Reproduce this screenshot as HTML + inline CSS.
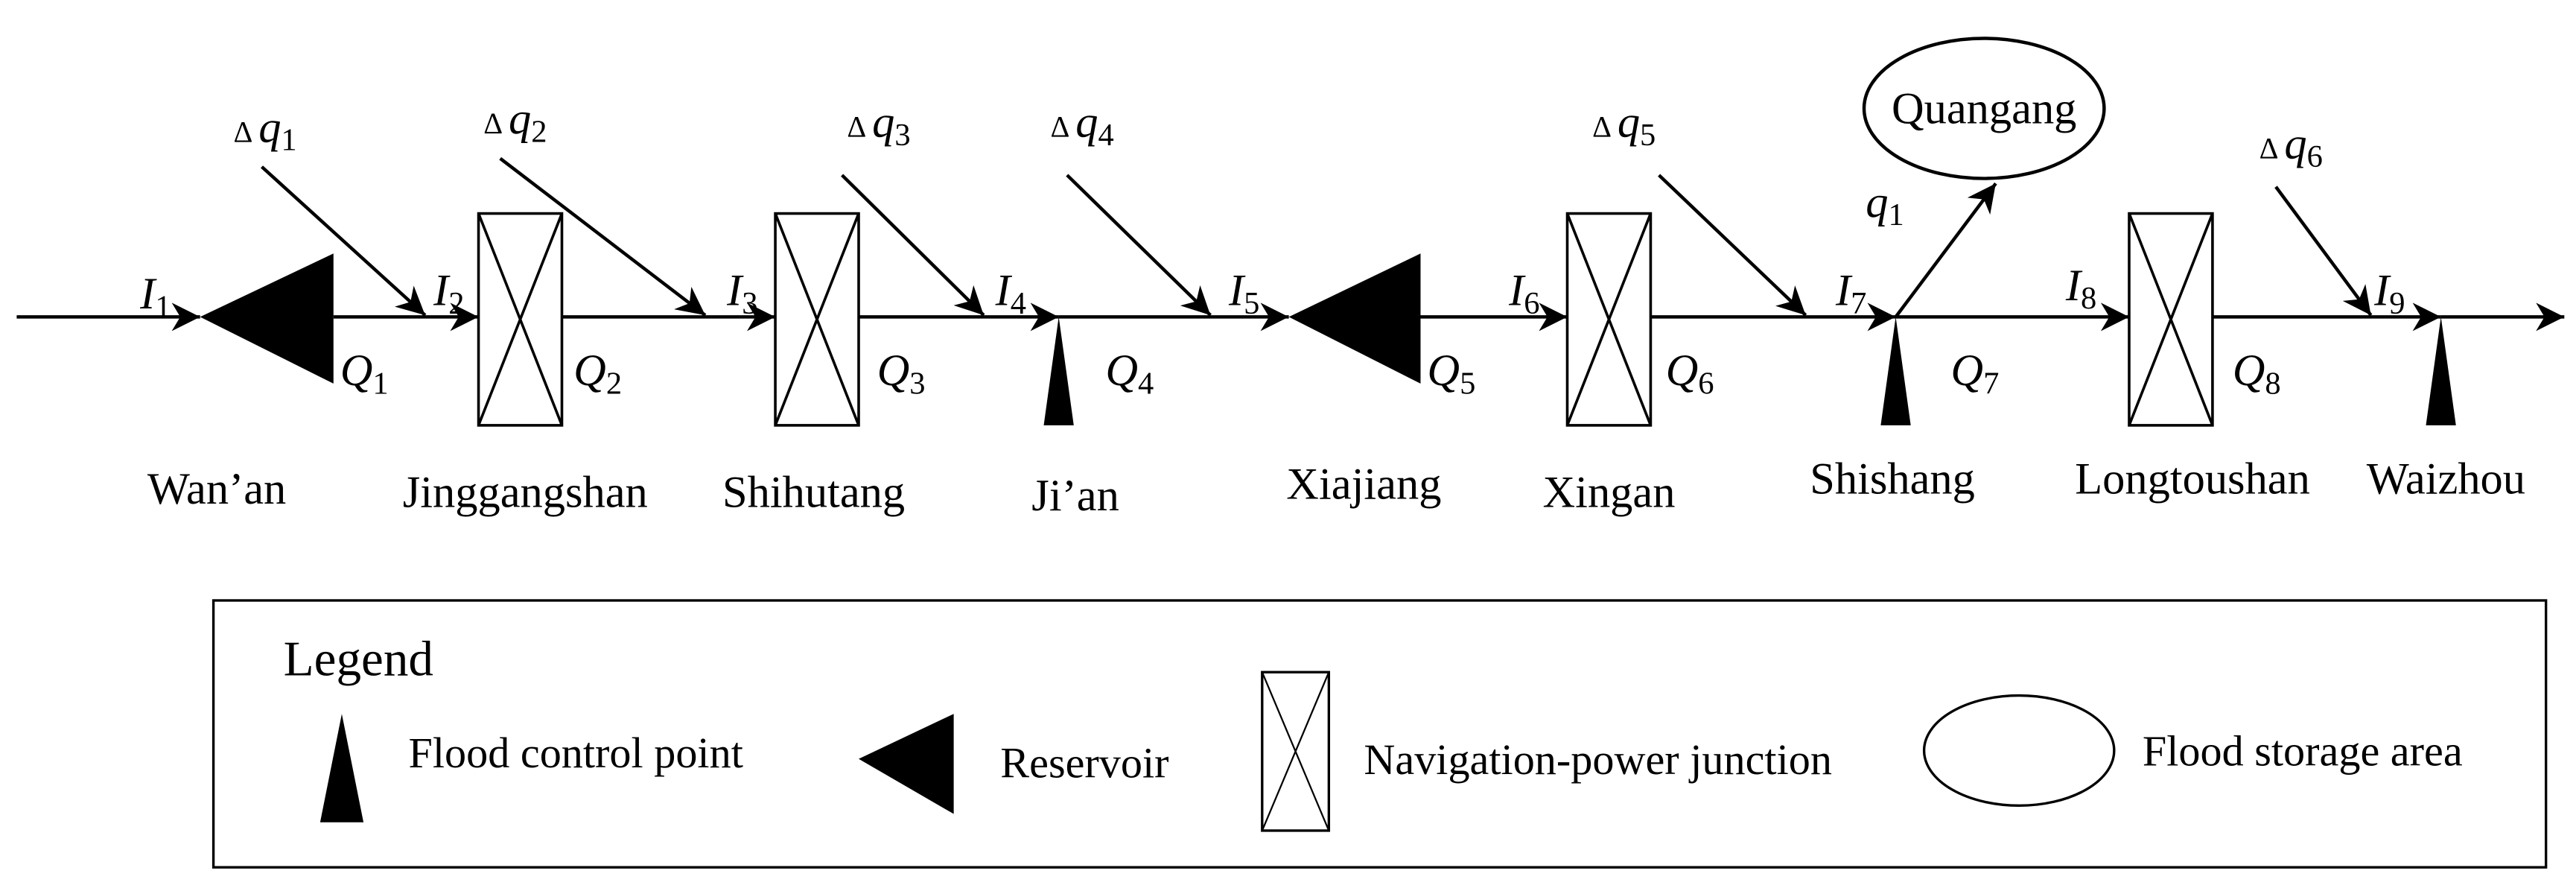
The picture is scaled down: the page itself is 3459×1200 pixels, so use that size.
<!DOCTYPE html>
<html><head><meta charset="utf-8"><style>html,body{margin:0;padding:0;background:#fff}svg{display:block}</style></head>
<body>
<svg width="3459" height="1200" viewBox="0 0 1545 536" xmlns="http://www.w3.org/2000/svg" font-family="Liberation Serif, serif">
<defs>
<marker id="b" viewBox="0 0 10 10" refX="10" refY="5" markerWidth="17" markerHeight="17" markerUnits="userSpaceOnUse" orient="auto"><path d="M0,0 L10,5 L0,10 L3,5 z" fill="#000"/></marker>
</defs>
<g stroke="#000" stroke-width="2" fill="none">
<line x1="10" y1="190" x2="120" y2="190" marker-end="url(#b)"/>
<line x1="200" y1="190" x2="287" y2="190" marker-end="url(#b)"/>
<line x1="337" y1="190" x2="465" y2="190" marker-end="url(#b)"/>
<line x1="515" y1="190" x2="635" y2="190" marker-end="url(#b)"/>
<line x1="635" y1="190" x2="773" y2="190" marker-end="url(#b)"/>
<line x1="852" y1="190" x2="940" y2="190" marker-end="url(#b)"/>
<line x1="990" y1="190" x2="1137" y2="190" marker-end="url(#b)"/>
<line x1="1137" y1="190" x2="1277" y2="190" marker-end="url(#b)"/>
<line x1="1327" y1="190" x2="1464" y2="190" marker-end="url(#b)"/>
<line x1="1464" y1="190" x2="1538" y2="190" marker-end="url(#b)"/>
<line x1="157" y1="100" x2="255" y2="189" marker-end="url(#b)"/>
<line x1="300" y1="95" x2="423" y2="189" marker-end="url(#b)"/>
<line x1="505" y1="105" x2="590" y2="189" marker-end="url(#b)"/>
<line x1="640" y1="105" x2="726" y2="189" marker-end="url(#b)"/>
<line x1="995" y1="105" x2="1083" y2="189" marker-end="url(#b)"/>
<line x1="1365" y1="112" x2="1422" y2="189" marker-end="url(#b)"/>
<line x1="1137" y1="190" x2="1197" y2="110" marker-end="url(#b)"/>
<g stroke-width="1.6">
<rect x="287" y="128" width="50" height="127" fill="#fff"/><path d="M287,128 L337,255 M337,128 L287,255"/>
<rect x="465" y="128" width="50" height="127" fill="#fff"/><path d="M465,128 L515,255 M515,128 L465,255"/>
<rect x="940" y="128" width="50" height="127" fill="#fff"/><path d="M940,128 L990,255 M990,128 L940,255"/>
<rect x="1277" y="128" width="50" height="127" fill="#fff"/><path d="M1277,128 L1327,255 M1327,128 L1277,255"/>
</g>
<ellipse cx="1190" cy="65" rx="72" ry="42"/>
<rect x="128" y="360" width="1399" height="160" stroke-width="1.5"/>
<rect x="757" y="403" width="40" height="95" stroke-width="1.5"/><path d="M757,403 L797,498 M797,403 L757,498" stroke-width="1"/>
<ellipse cx="1211" cy="450" rx="57" ry="33" stroke-width="1.5"/>
</g>
<g fill="#000">
<path d="M120,190 L200,152 L200,230 z"/>
<path d="M773,190 L852,152 L852,230 z"/>
<path d="M635,190 L644,255 L626,255 z"/>
<path d="M1137,190 L1146,255 L1128,255 z"/>
<path d="M1464,190 L1473,255 L1455,255 z"/>
<path d="M205,428 L218,493 L192,493 z"/>
<path d="M515,455 L572,428 L572,488 z"/>
</g>
<g font-size="27" font-style="italic">
<text x="84" y="185">I<tspan font-size="19" font-style="normal" dy="5">1</tspan></text>
<text x="260" y="183">I<tspan font-size="19" font-style="normal" dy="5">2</tspan></text>
<text x="436" y="183">I<tspan font-size="19" font-style="normal" dy="5">3</tspan></text>
<text x="597" y="183">I<tspan font-size="19" font-style="normal" dy="5">4</tspan></text>
<text x="737" y="183">I<tspan font-size="19" font-style="normal" dy="5">5</tspan></text>
<text x="905" y="183">I<tspan font-size="19" font-style="normal" dy="5">6</tspan></text>
<text x="1101" y="183">I<tspan font-size="19" font-style="normal" dy="5">7</tspan></text>
<text x="1239" y="180">I<tspan font-size="19" font-style="normal" dy="5">8</tspan></text>
<text x="1424" y="183">I<tspan font-size="19" font-style="normal" dy="5">9</tspan></text>
<text x="204" y="231">Q<tspan font-size="19" font-style="normal" dy="5">1</tspan></text>
<text x="344" y="231">Q<tspan font-size="19" font-style="normal" dy="5">2</tspan></text>
<text x="526" y="231">Q<tspan font-size="19" font-style="normal" dy="5">3</tspan></text>
<text x="663" y="231">Q<tspan font-size="19" font-style="normal" dy="5">4</tspan></text>
<text x="856" y="231">Q<tspan font-size="19" font-style="normal" dy="5">5</tspan></text>
<text x="999" y="231">Q<tspan font-size="19" font-style="normal" dy="5">6</tspan></text>
<text x="1170" y="231">Q<tspan font-size="19" font-style="normal" dy="5">7</tspan></text>
<text x="1339" y="231">Q<tspan font-size="19" font-style="normal" dy="5">8</tspan></text>
<text x="1119" y="130">q<tspan font-size="19" font-style="normal" dy="5">1</tspan></text>
<text x="140" y="85"><tspan font-style="normal" font-size="18">Δ </tspan>q<tspan font-size="19" font-style="normal" dy="5">1</tspan></text>
<text x="290" y="80"><tspan font-style="normal" font-size="18">Δ </tspan>q<tspan font-size="19" font-style="normal" dy="5">2</tspan></text>
<text x="508" y="82"><tspan font-style="normal" font-size="18">Δ </tspan>q<tspan font-size="19" font-style="normal" dy="5">3</tspan></text>
<text x="630" y="82"><tspan font-style="normal" font-size="18">Δ </tspan>q<tspan font-size="19" font-style="normal" dy="5">4</tspan></text>
<text x="955" y="82"><tspan font-style="normal" font-size="18">Δ </tspan>q<tspan font-size="19" font-style="normal" dy="5">5</tspan></text>
<text x="1355" y="95"><tspan font-style="normal" font-size="18">Δ </tspan>q<tspan font-size="19" font-style="normal" dy="5">6</tspan></text>
</g>
<g font-size="27" text-anchor="middle">
<text x="1190" y="74">Quangang</text>
<text x="130" y="302">Wan’an</text>
<text x="315" y="304">Jinggangshan</text>
<text x="488" y="304">Shihutang</text>
<text x="645" y="306">Ji’an</text>
<text x="818" y="299">Xiajiang</text>
<text x="965" y="304">Xingan</text>
<text x="1135" y="296">Shishang</text>
<text x="1315" y="296">Longtoushan</text>
<text x="1467" y="296">Waizhou</text>
</g>
<g font-size="26">
<text x="170" y="405" font-size="30">Legend</text>
<text x="245" y="460">Flood control point</text>
<text x="600" y="466">Reservoir</text>
<text x="818" y="464">Navigation-power junction</text>
<text x="1285" y="459">Flood storage area</text>
</g>
</svg>
</body></html>
